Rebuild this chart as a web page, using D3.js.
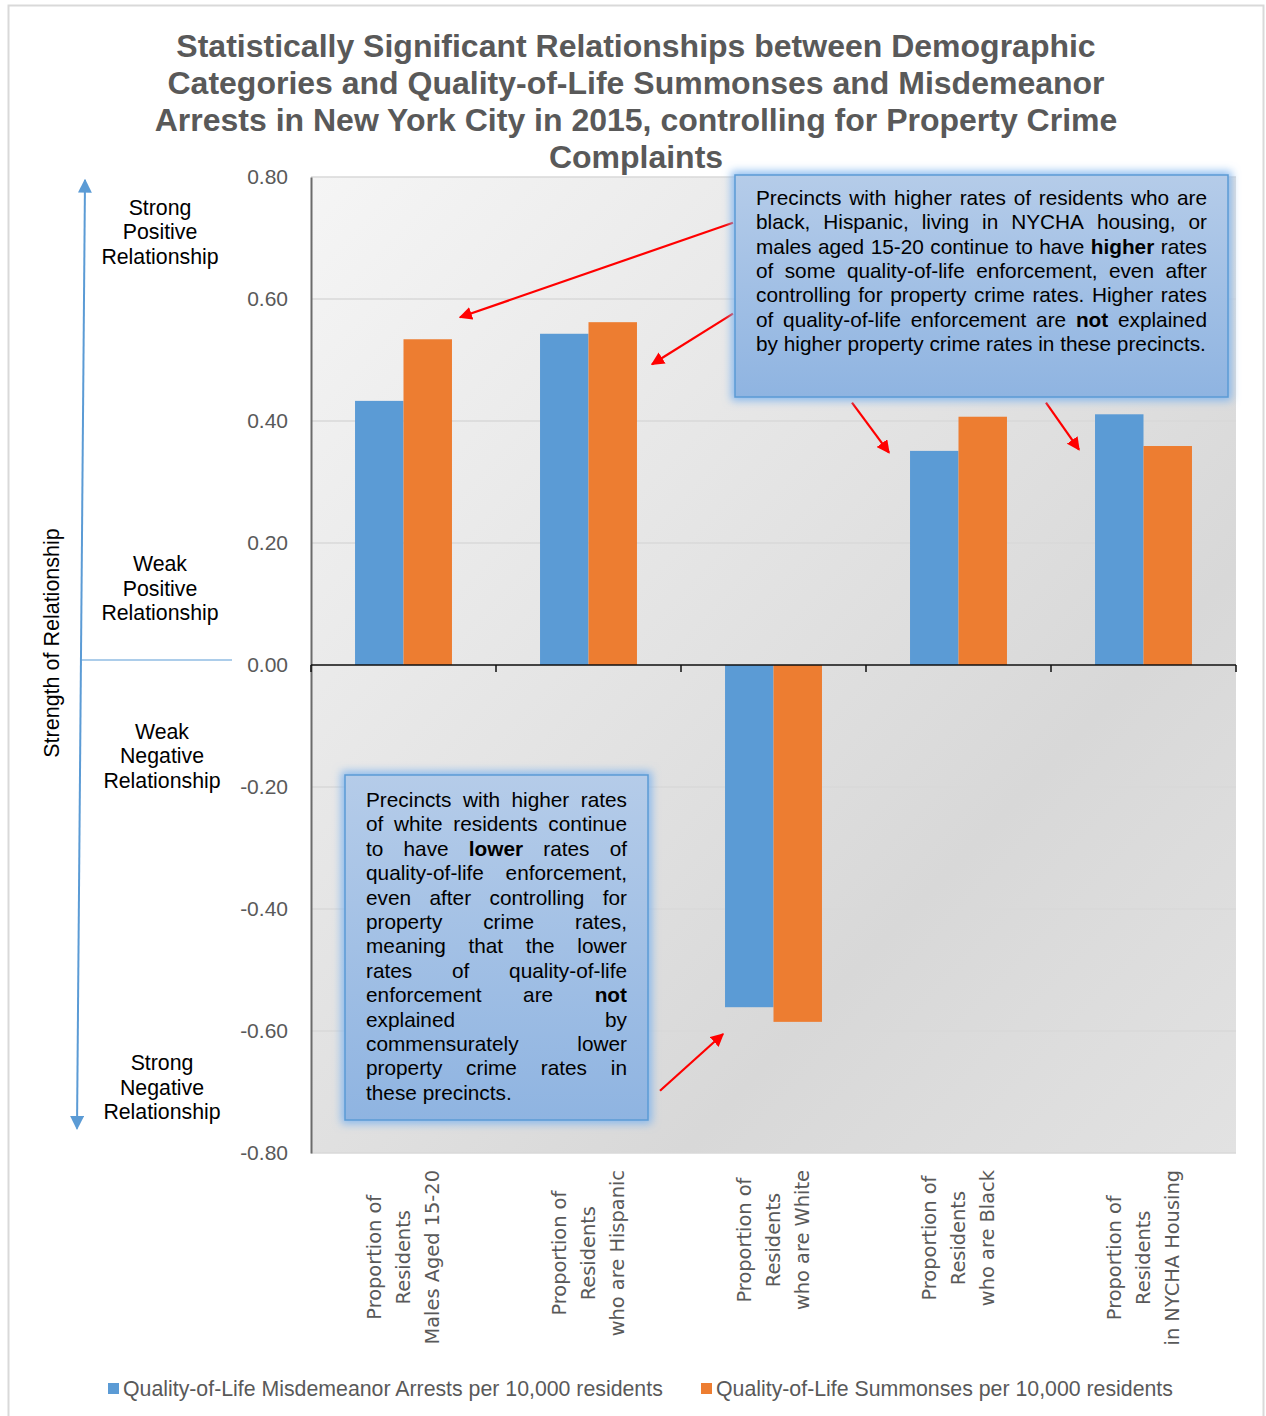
<!DOCTYPE html>
<html>
<head>
<meta charset="utf-8">
<script src="https://cdn.jsdelivr.net/npm/d3@7"></script>
<style>
  body { margin: 0; background: #fff; }
  text { font-family: "Liberation Sans", Arial, sans-serif; }
</style>
</head>
<body>
<svg width="1266" height="1416"></svg>
<script>
// ---- data ----
var categories = [
  ["Proportion of", "Residents", "Males Aged 15-20"],
  ["Proportion of", "Residents", "who are Hispanic"],
  ["Proportion of", "Residents", "who are White"],
  ["Proportion of", "Residents", "who are Black"],
  ["Proportion of", "Residents", "in NYCHA Housing"]
];
var seriesNames = ["Quality-of-Life Misdemeanor Arrests per 10,000 residents",
                   "Quality-of-Life Summonses per 10,000 residents"];
var arrests   = [0.433, 0.543, -0.561, 0.351, 0.411];
var summonses = [0.534, 0.562, -0.585, 0.407, 0.359];
var yTicks = [-0.8, -0.6, -0.4, -0.2, 0, 0.2, 0.4, 0.6, 0.8];
var titleLines = [
  "Statistically Significant Relationships between Demographic",
  "Categories and Quality-of-Life Summonses and Misdemeanor",
  "Arrests in New York City in 2015, controlling for Property Crime",
  "Complaints"
];
var strengthLabels = [
  {v: 0.71, lines: ["Strong", "Positive", "Relationship"]},
  {v: 0.126, lines: ["Weak", "Positive", "Relationship"]},
  {v: -0.149, lines: ["Weak", "Negative", "Relationship"]},
  {v: -0.692, lines: ["Strong", "Negative", "Relationship"]}
];
var note1 = [
  "Precincts with higher rates of residents who are",
  "black, Hispanic, living in NYCHA housing, or",
  "males aged 15-20 continue to have **higher** rates",
  "of some quality-of-life enforcement, even after",
  "controlling for property crime rates.  Higher rates",
  "of quality-of-life enforcement are **not** explained",
  "by higher property crime rates in these precincts."
];
var note2 = [
  "Precincts with higher rates",
  "of white residents continue",
  "to have **lower** rates of",
  "quality-of-life enforcement,",
  "even after controlling for",
  "property crime rates,",
  "meaning that the lower",
  "rates of quality-of-life",
  "enforcement are **not**",
  "explained by",
  "commensurately lower",
  "property crime rates in",
  "these precincts."
];

var blue = "#5b9bd5", orange = "#ed7d31", grey = "#595959";

var svg = d3.select("svg");
var defs = svg.append("defs");

// outer frame
svg.append("rect").attr("x", 8.5).attr("y", 5.5).attr("width", 1255).attr("height", 1420)
  .attr("fill", "#fff").attr("stroke", "#d9d9d9").attr("stroke-width", 2);

var plot = {left: 311, right: 1236, top: 177, bottom: 1153};

var y = d3.scaleLinear().domain([-0.8, 0.8]).range([plot.bottom, plot.top]);
var x0 = d3.scaleBand().domain(d3.range(categories.length)).range([plot.left, plot.right]).padding(0);
var bw = x0.bandwidth();
var x1 = d3.scaleBand().domain([0, 1]).range([bw * 0.238, bw * 0.762]).padding(0);

// plot background gradient
var bg = defs.append("linearGradient").attr("id", "bg")
  .attr("x1", 0).attr("y1", 0).attr("x2", 1).attr("y2", 1);
bg.append("stop").attr("offset", 0).attr("stop-color", "#f5f5f5");
bg.append("stop").attr("offset", 0.7).attr("stop-color", "#d8d8d8");
bg.append("stop").attr("offset", 1).attr("stop-color", "#e2e2e2");
svg.append("rect").attr("x", plot.left).attr("y", plot.top)
  .attr("width", plot.right - plot.left).attr("height", plot.bottom - plot.top)
  .attr("fill", "url(#bg)");

// gridlines
svg.append("g").selectAll("line").data(yTicks).enter().append("line")
  .attr("x1", plot.left).attr("x2", plot.right)
  .attr("y1", function(d) { return y(d); }).attr("y2", function(d) { return y(d); })
  .attr("stroke", "#d9d9d9").attr("stroke-width", 1.5);

// y axis
var yAxis = svg.append("g").attr("transform", "translate(" + plot.left + ",0)")
  .call(d3.axisLeft(y).tickValues(yTicks)
    .tickFormat(function(d) { return d.toFixed(2); }).tickSize(0).tickPadding(23));
yAxis.select(".domain").attr("stroke", "#6b6b6b").attr("stroke-width", 2);
yAxis.selectAll("text").attr("fill", grey).style("font-size", "21px")
  .style("font-family", "Liberation Sans, Arial, sans-serif");

// bars
var groups = svg.append("g").selectAll("g").data(categories).enter().append("g")
  .attr("transform", function(d, i) { return "translate(" + x0(i) + ",0)"; });
groups.selectAll("rect")
  .data(function(d, i) { return [arrests[i], summonses[i]]; })
  .enter().append("rect")
  .attr("x", function(d, j) { return x1(j); })
  .attr("width", x1.bandwidth())
  .attr("y", function(d) { return y(Math.max(0, d)); })
  .attr("height", function(d) { return Math.abs(y(d) - y(0)); })
  .attr("fill", function(d, j) { return j === 0 ? blue : orange; });

// zero axis with ticks
var xAxis = svg.append("g").attr("transform", "translate(0," + y(0) + ")");
xAxis.append("line").attr("x1", plot.left).attr("x2", plot.right)
  .attr("stroke", "#111").attr("stroke-width", 1.5);
xAxis.selectAll(".tk").data(d3.range(categories.length + 1)).enter().append("line")
  .attr("x1", function(i) { return plot.left + i * bw; })
  .attr("x2", function(i) { return plot.left + i * bw; })
  .attr("y1", 0).attr("y2", 7).attr("stroke", "#111").attr("stroke-width", 1.5);

// category labels (rotated, 3 lines, longest line starts at fixed point)
groups.each(function(lines, i) {
  var g = d3.select(this);
  var t = g.append("text").attr("fill", grey).style("font-family", "DejaVu Sans, sans-serif")
    .style("font-size", "19.4px").attr("text-anchor", "middle");
  lines.forEach(function(l, k) {
    t.append("tspan").attr("x", 0).attr("y", (k - 1) * 29).attr("dy", "0.35em").text(l);
  });
  var maxLen = d3.max(t.selectAll("tspan").nodes(), function(n) { return n.getComputedTextLength(); });
  t.attr("transform", "translate(" + (bw / 2) + "," + (1170 + maxLen / 2) + ") rotate(-90)");
});

// title
svg.append("text").attr("text-anchor", "middle").attr("fill", grey)
  .style("font-size", "32px").style("font-weight", "bold")
  .selectAll("tspan").data(titleLines).enter().append("tspan")
  .attr("x", 636).attr("y", function(d, i) { return 57 + i * 37; }).text(function(d) { return d; });

// left strength arrow
defs.append("marker").attr("id", "blueHead").attr("viewBox", "0 0 10 10")
  .attr("refX", 9).attr("refY", 5).attr("markerWidth", 7).attr("markerHeight", 7)
  .attr("markerUnits", "strokeWidth").attr("orient", "auto")
  .append("path").attr("d", "M0,0 L10,5 L0,10 Z").attr("fill", blue);
defs.append("marker").attr("id", "blueTail").attr("viewBox", "0 0 10 10")
  .attr("refX", 1).attr("refY", 5).attr("markerWidth", 7).attr("markerHeight", 7)
  .attr("markerUnits", "strokeWidth").attr("orient", "auto")
  .append("path").attr("d", "M10,0 L0,5 L10,10 Z").attr("fill", blue);
svg.append("line").attr("x1", 85).attr("y1", y(0.795)).attr("x2", 77).attr("y2", y(-0.76))
  .attr("stroke", blue).attr("stroke-width", 2)
  .attr("marker-start", "url(#blueTail)").attr("marker-end", "url(#blueHead)");
svg.append("line").attr("x1", 80).attr("x2", 232).attr("y1", y(0) - 5).attr("y2", y(0) - 5)
  .attr("stroke", blue).attr("stroke-width", 1.2);

svg.append("text").attr("transform", "translate(59," + 643 + ") rotate(-90)")
  .attr("text-anchor", "middle").style("font-size", "21.5px").attr("fill", "#000")
  .text("Strength of Relationship");

strengthLabels.forEach(function(s, k) {
  var cx = k < 2 ? 160 : 162;
  svg.append("text").attr("text-anchor", "middle").style("font-size", "21.3px").attr("fill", "#000")
    .selectAll("tspan").data(s.lines).enter().append("tspan")
    .attr("x", cx).attr("y", function(d, i) { return y(s.v) + (i - 1) * 24.5; })
    .attr("dy", "0.35em").text(function(d) { return d; });
});

// legend
var legend = svg.append("g");
[[108, 0], [701, 1]].forEach(function(p) {
  legend.append("rect").attr("x", p[0]).attr("y", 1383).attr("width", 11).attr("height", 11)
    .attr("fill", p[1] === 0 ? blue : orange);
  legend.append("text").attr("x", p[0] + 15).attr("y", 1396).attr("fill", grey)
    .style("font-size", "21.3px").text(seriesNames[p[1]]);
});

// red annotation arrows
defs.append("marker").attr("id", "redHead").attr("viewBox", "0 0 10 10")
  .attr("refX", 9).attr("refY", 5).attr("markerWidth", 6).attr("markerHeight", 6)
  .attr("markerUnits", "strokeWidth").attr("orient", "auto")
  .append("path").attr("d", "M0,0 L10,5 L0,10 Z").attr("fill", "#ff0000");
var redArrows = [
  [733, 0.725, 460, 0.57],
  [733, 0.576, 652, 0.493],
  [852, 0.43, 889, 0.348],
  [1046, 0.43, 1079, 0.353],
  [660, -0.698, 723, -0.605]
];
svg.append("g").selectAll("line").data(redArrows).enter().append("line")
  .attr("x1", function(d) { return d[0]; }).attr("y1", function(d) { return y(d[1]); })
  .attr("x2", function(d) { return d[2]; }).attr("y2", function(d) { return y(d[3]); })
  .attr("stroke", "#ff0000").attr("stroke-width", 2.2).attr("marker-end", "url(#redHead)");

// note boxes
var glow = defs.append("filter").attr("id", "glow").attr("x", "-10%").attr("y", "-10%")
  .attr("width", "120%").attr("height", "120%");
glow.append("feMorphology").attr("in", "SourceAlpha").attr("operator", "dilate").attr("radius", 3).attr("result", "d");
glow.append("feGaussianBlur").attr("in", "d").attr("stdDeviation", 4).attr("result", "b");
glow.append("feFlood").attr("flood-color", "#7fb4ee").attr("flood-opacity", 0.9);
glow.append("feComposite").attr("in2", "b").attr("operator", "in").attr("result", "g");
var fm = glow.append("feMerge");
fm.append("feMergeNode").attr("in", "g");
fm.append("feMergeNode").attr("in", "SourceGraphic");

var nf = defs.append("linearGradient").attr("id", "noteFill").attr("x1", 0).attr("y1", 0).attr("x2", 0).attr("y2", 1);
nf.append("stop").attr("offset", 0).attr("stop-color", "#b5cce9");
nf.append("stop").attr("offset", 1).attr("stop-color", "#8fb4e1");

function noteBox(x, yTop, w, h, lines, tx, tw, firstBase, lh) {
  svg.append("rect").attr("x", x).attr("y", yTop).attr("width", w).attr("height", h)
    .attr("fill", "url(#noteFill)").attr("stroke", blue).attr("stroke-width", 1.5)
    .attr("filter", "url(#glow)");
  var t = svg.append("text").attr("fill", "#000").style("font-size", "20.8px");
  lines.forEach(function(line, li) {
    var words = line.split(/\s+/).map(function(w) {
      var b = /^\*\*.*\*\*$/.test(w);
      return {w: b ? w.slice(2, -2) : w, bold: b};
    });
    var spans = words.map(function(wd) {
      return t.append("tspan").attr("y", firstBase + li * lh)
        .style("font-weight", wd.bold ? "bold" : "normal").text(wd.w);
    });
    var widths = spans.map(function(s) { return s.node().getComputedTextLength(); });
    var total = d3.sum(widths);
    var last = li === lines.length - 1;
    var gap = (!last && words.length > 1) ? (tw - total) / (words.length - 1) : 5.8;
    var cx = tx;
    spans.forEach(function(s, k) { s.attr("x", cx); cx += widths[k] + gap; });
  });
}
noteBox(735, 175, 493, 222, note1, 756, 451, 205, 24.3);
noteBox(345, 775, 303, 345, note2, 366, 261, 807, 24.4);
</script>
</body>
</html>
